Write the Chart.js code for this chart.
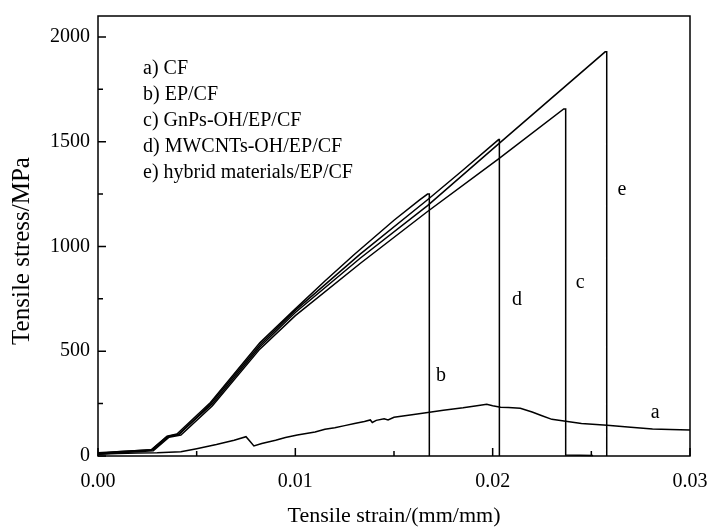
<!DOCTYPE html>
<html>
<head>
<meta charset="utf-8">
<script src="https://cdn.jsdelivr.net/npm/chart.js@4.4.0/dist/chart.umd.min.js"></script>
<style>
  body { margin: 0; background: #fff; }
  canvas { display: block; }
</style>
</head>
<body>
<canvas id="chart" width="710" height="529"></canvas>
<script>
// strain (mm/mm) / stress (MPa) pairs
const curveA = [[0,8],[0.001,12],[0.002,14],[0.003,15],[0.0042,20],[0.005,35],[0.006,55],[0.0069,75],[0.0075,92],[0.0077,70],[0.0079,48],[0.0083,60],[0.009,75],[0.0095,88],[0.0101,100],[0.011,115],[0.0115,128],[0.012,135],[0.0125,145],[0.013,155],[0.0135,165],[0.0138,172],[0.0139,160],[0.0141,170],[0.0145,178],[0.0147,172],[0.015,185],[0.016,198],[0.0168,209],[0.0175,218],[0.0185,230],[0.0192,240],[0.0197,247],[0.02,240],[0.0204,233],[0.0208,232],[0.0214,228],[0.022,210],[0.0225,192],[0.023,175],[0.0237,166],[0.0245,155],[0.0258,147],[0.027,137],[0.0281,129],[0.029,126],[0.03,124]];
const curveB = [[0,12],[0.001,20],[0.0027,30],[0.0035,95],[0.004,105],[0.0057,255],[0.0082,540],[0.01,702],[0.0115,835],[0.013,963],[0.015,1125],[0.0163,1222],[0.0167,1250],[0.01679,1250],[0.01679,0]];
const curveC = [[0,10],[0.0028,25],[0.0036,90],[0.0042,100],[0.0058,240],[0.0082,510],[0.01,670],[0.0133,920],[0.0167,1167],[0.0203,1418],[0.0236,1656],[0.0237,1656],[0.0237,5],[0.02509,2]];
const curveD = [[0,10],[0.0027,28],[0.0035,92],[0.0041,102],[0.0057,248],[0.0082,530],[0.01,695],[0.0133,965],[0.0167,1223],[0.0185,1365],[0.0203,1510],[0.02034,1510],[0.02034,0]];
const curveE = [[0,15],[0.0028,30],[0.0036,95],[0.0041,105],[0.0058,250],[0.0082,520],[0.01,685],[0.0133,945],[0.0167,1195],[0.0203,1490],[0.0257,1929],[0.02578,1929],[0.02578,0]];

const legendLines = ['a) CF', 'b) EP/CF', 'c) GnPs-OH/EP/CF', 'd) MWCNTs-OH/EP/CF', 'e) hybrid materials/EP/CF'];
const curveLabels = [['a', 0.02823, 205], ['b', 0.01738, 382], ['c', 0.02443, 827], ['d', 0.02123, 745], ['e', 0.02655, 1271]];

const xMajor = [0, 0.01, 0.02, 0.03];
const xMinor = [0.005, 0.015, 0.025];
const yMajor = [0, 500, 1000, 1500, 2000];
const yMinor = [250, 750, 1250, 1750];

const serif = 'Liberation Serif, Times New Roman, serif';

function toPoints(arr) {
    return arr.map(p => ({x: p[0], y: p[1]}));
}

const frame = {
    id: 'frame',
    afterDraw(chart) {
        const {ctx, chartArea: a, scales: {x, y}} = chart;
        ctx.save();
        ctx.strokeStyle = '#000';
        ctx.lineWidth = 1.5;
        ctx.strokeRect(a.left, a.top, a.right - a.left, a.bottom - a.top);

        ctx.beginPath();
        xMajor.forEach(v => { const px = x.getPixelForValue(v); ctx.moveTo(px, a.bottom); ctx.lineTo(px, a.bottom - 8); });
        xMinor.forEach(v => { const px = x.getPixelForValue(v); ctx.moveTo(px, a.bottom); ctx.lineTo(px, a.bottom - 5); });
        yMajor.forEach(v => { const py = y.getPixelForValue(v); ctx.moveTo(a.left, py); ctx.lineTo(a.left + 8, py); });
        yMinor.forEach(v => { const py = y.getPixelForValue(v); ctx.moveTo(a.left, py); ctx.lineTo(a.left + 5, py); });
        ctx.stroke();

        ctx.fillStyle = '#000';
        ctx.font = '20px ' + serif;
        ctx.textBaseline = 'middle';
        ctx.textAlign = 'left';
        legendLines.forEach((t, i) => ctx.fillText(t, a.left + 45, a.top + 53 + i * 26));

        ctx.textAlign = 'center';
        curveLabels.forEach(l => ctx.fillText(l[0], x.getPixelForValue(l[1]), y.getPixelForValue(l[2])));

        // y axis title, sits a little below the plot centre in the original
        ctx.font = '25px ' + serif;
        ctx.translate(22, (a.top + a.bottom) / 2 + 15);
        ctx.rotate(-Math.PI / 2);
        ctx.fillText('Tensile stress/MPa', 0, 0);
        ctx.restore();
    }
};

const datasets = [curveA, curveB, curveC, curveD, curveE].map((c, i) => ({
    label: legendLines[i],
    data: toPoints(c),
    showLine: true,
    borderColor: '#000',
    borderWidth: 1.5,
    pointRadius: 0,
    tension: 0,
    clip: false
}));

new Chart(document.getElementById('chart'), {
    type: 'scatter',
    data: {datasets},
    plugins: [frame],
    options: {
        responsive: false,
        animation: false,
        layout: {padding: {top: 16, right: 20, left: 0, bottom: 0}},
        plugins: {legend: {display: false}, tooltip: {enabled: false}},
        scales: {
            x: {
                type: 'linear',
                min: 0,
                max: 0.03,
                afterFit: s => { s.height = 73; s.paddingLeft = 0; s.paddingRight = 0; },
                afterBuildTicks: s => { s.ticks = xMajor.map(v => ({value: v})); },
                grid: {display: false, drawTicks: false},
                border: {display: false},
                ticks: {color: '#000', padding: 14, maxRotation: 0, font: {family: serif, size: 20}, callback: v => v.toFixed(2)},
                title: {display: true, text: 'Tensile strain/(mm/mm)', color: '#000', font: {family: serif, size: 22}, padding: {top: 0, bottom: 0}}
            },
            y: {
                type: 'linear',
                min: 0,
                max: 2100,
                afterFit: s => { s.width = 98; s.paddingTop = 0; s.paddingBottom = 0; },
                afterBuildTicks: s => { s.ticks = yMajor.map(v => ({value: v})); },
                grid: {display: false, drawTicks: false},
                border: {display: false},
                ticks: {color: '#000', padding: 8, font: {family: serif, size: 20}, callback: v => String(v)}
            }
        }
    }
});
</script>
</body>
</html>
